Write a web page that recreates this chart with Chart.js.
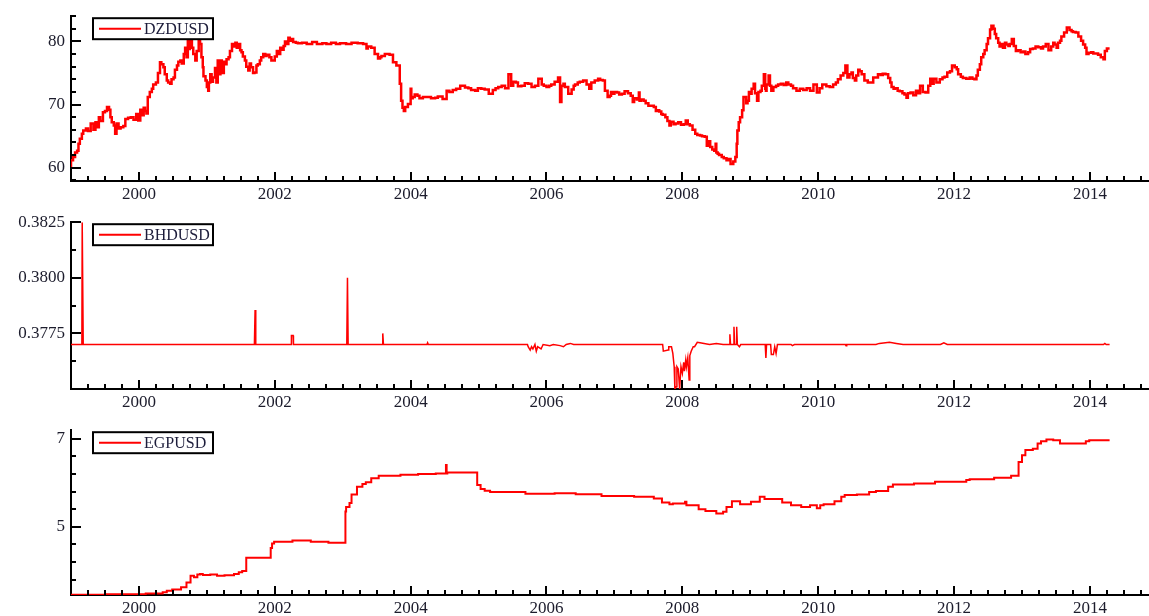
<!DOCTYPE html>
<html>
<head>
<meta charset="utf-8">
<script src="https://cdn.jsdelivr.net/npm/chart.js@4.4.1/dist/chart.umd.min.js"></script>
<style>
  body { margin: 0; background: #fff; }
  #wrap { position: relative; width: 1149px; height: 616px; overflow: hidden; }
  canvas { position: absolute; left: 0; }
</style>
</head>
<body>
<div id="wrap">
  <canvas id="dzd" width="1149" height="205" style="top:0px"></canvas>
  <canvas id="bhd" width="1149" height="208" style="top:206px"></canvas>
  <canvas id="egp" width="1149" height="202" style="top:414px"></canvas>
</div>
<script>
// shared time axis (decimal years)
const xStart = 1999.0;
const xEnd = 2014.87;
const yearLabels = [2000, 2002, 2004, 2006, 2008, 2010, 2012, 2014];

// DZD per USD
const dzdDates = [
  1999.00, 1999.03, 1999.06, 1999.09, 1999.11, 1999.13, 1999.16, 1999.18, 1999.22, 1999.25,
  1999.29, 1999.33, 1999.36, 1999.38, 1999.41, 1999.43, 1999.47, 1999.50, 1999.53, 1999.56,
  1999.58, 1999.60, 1999.63, 1999.65, 1999.67, 1999.70, 1999.73, 1999.77, 1999.80, 1999.84,
  1999.88, 1999.92, 1999.96, 1999.99, 2000.02, 2000.04, 2000.07, 2000.09, 2000.11, 2000.13,
  2000.16, 2000.19, 2000.21, 2000.25, 2000.28, 2000.31, 2000.33, 2000.36, 2000.38, 2000.41,
  2000.43, 2000.46, 2000.48, 2000.51, 2000.53, 2000.56, 2000.58, 2000.61, 2000.63, 2000.66,
  2000.68, 2000.70, 2000.72, 2000.73, 2000.75, 2000.78, 2000.80, 2000.83, 2000.85, 2000.88,
  2000.90, 2000.92, 2000.94, 2000.95, 2000.98, 2001.00, 2001.02, 2001.03, 2001.05, 2001.07,
  2001.09, 2001.12, 2001.14, 2001.16, 2001.18, 2001.20, 2001.22, 2001.25, 2001.27, 2001.29,
  2001.32, 2001.34, 2001.37, 2001.39, 2001.42, 2001.44, 2001.47, 2001.49, 2001.51, 2001.53,
  2001.56, 2001.58, 2001.61, 2001.63, 2001.65, 2001.68, 2001.70, 2001.73, 2001.75, 2001.78,
  2001.80, 2001.83, 2001.86, 2001.88, 2001.92, 2001.95, 2001.98, 2002.00, 2002.03, 2002.05,
  2002.08, 2002.10, 2002.13, 2002.15, 2002.18, 2002.20, 2002.22, 2002.25, 2002.27, 2002.31,
  2002.34, 2002.40, 2002.47, 2002.55, 2002.62, 2002.70, 2002.76, 2002.83, 2002.90, 2002.96,
  2003.05, 2003.13, 2003.22, 2003.30, 2003.35, 2003.37, 2003.42, 2003.47, 2003.52, 2003.55,
  2003.57, 2003.62, 2003.69, 2003.74, 2003.79, 2003.84, 2003.86, 2003.88, 2003.90, 2003.92,
  2003.96, 2004.00, 2004.01, 2004.03, 2004.06, 2004.10, 2004.13, 2004.18, 2004.23, 2004.30,
  2004.36, 2004.40, 2004.47, 2004.53, 2004.57, 2004.62, 2004.67, 2004.73, 2004.80, 2004.85,
  2004.89, 2004.95, 2004.99, 2005.04, 2005.09, 2005.15, 2005.21, 2005.25, 2005.29, 2005.34,
  2005.39, 2005.44, 2005.48, 2005.51, 2005.55, 2005.58, 2005.63, 2005.68, 2005.73, 2005.78,
  2005.83, 2005.88, 2005.93, 2005.96, 2006.00, 2006.04, 2006.07, 2006.12, 2006.17, 2006.20,
  2006.22, 2006.25, 2006.27, 2006.32, 2006.37, 2006.40, 2006.42, 2006.46, 2006.49, 2006.54,
  2006.59, 2006.63, 2006.66, 2006.71, 2006.76, 2006.79, 2006.83, 2006.86, 2006.90, 2006.93,
  2006.95, 2006.98, 2007.00, 2007.04, 2007.07, 2007.11, 2007.15, 2007.20, 2007.24, 2007.27,
  2007.29, 2007.33, 2007.36, 2007.37, 2007.39, 2007.43, 2007.46, 2007.50, 2007.54, 2007.58,
  2007.61, 2007.64, 2007.66, 2007.69, 2007.71, 2007.75, 2007.78, 2007.81, 2007.83, 2007.87,
  2007.90, 2007.94, 2007.98, 2008.02, 2008.05, 2008.08, 2008.11, 2008.15, 2008.19, 2008.22,
  2008.26, 2008.29, 2008.33, 2008.36, 2008.38, 2008.41, 2008.44, 2008.47, 2008.49, 2008.50,
  2008.52, 2008.54, 2008.58, 2008.61, 2008.65, 2008.68, 2008.71, 2008.75, 2008.78, 2008.80,
  2008.81, 2008.83, 2008.85, 2008.88, 2008.90, 2008.94, 2008.96, 2008.98, 2009.00, 2009.02,
  2009.05, 2009.07, 2009.10, 2009.12, 2009.15, 2009.17, 2009.20, 2009.22, 2009.23, 2009.24,
  2009.27, 2009.29, 2009.31, 2009.34, 2009.38, 2009.41, 2009.45, 2009.49, 2009.53, 2009.56,
  2009.60, 2009.63, 2009.68, 2009.73, 2009.78, 2009.83, 2009.88, 2009.93, 2009.98, 2010.02,
  2010.06, 2010.12, 2010.17, 2010.22, 2010.26, 2010.29, 2010.33, 2010.37, 2010.40, 2010.43,
  2010.46, 2010.49, 2010.51, 2010.54, 2010.56, 2010.59, 2010.61, 2010.64, 2010.68, 2010.73,
  2010.78, 2010.81, 2010.85, 2010.88, 2010.92, 2010.95, 2010.99, 2011.03, 2011.06, 2011.08,
  2011.11, 2011.13, 2011.17, 2011.20, 2011.24, 2011.27, 2011.30, 2011.32, 2011.36, 2011.40,
  2011.44, 2011.47, 2011.50, 2011.54, 2011.58, 2011.62, 2011.65, 2011.67, 2011.70, 2011.74,
  2011.79, 2011.83, 2011.86, 2011.90, 2011.94, 2011.97, 2012.01, 2012.04, 2012.06, 2012.10,
  2012.13, 2012.18, 2012.23, 2012.27, 2012.30, 2012.33, 2012.35, 2012.38, 2012.40, 2012.43,
  2012.45, 2012.48, 2012.50, 2012.53, 2012.55, 2012.58, 2012.60, 2012.62, 2012.65, 2012.67,
  2012.70, 2012.72, 2012.75, 2012.77, 2012.80, 2012.82, 2012.85, 2012.88, 2012.91, 2012.94,
  2012.98, 2013.02, 2013.05, 2013.09, 2013.12, 2013.16, 2013.20, 2013.24, 2013.28, 2013.31,
  2013.35, 2013.39, 2013.43, 2013.46, 2013.48, 2013.51, 2013.53, 2013.56, 2013.58, 2013.62,
  2013.66, 2013.70, 2013.73, 2013.75, 2013.79, 2013.83, 2013.87, 2013.90, 2013.93, 2013.95,
  2013.98, 2014.02, 2014.05, 2014.09, 2014.12, 2014.16, 2014.20, 2014.22, 2014.25, 2014.29
];
const dzdValues = [
  60.1, 61.2, 61.7, 62.4, 62.7, 63.8, 64.6, 65.4, 65.9, 66.2,
  65.8, 67.0, 66.0, 67.2, 66.4, 68.0, 67.4, 68.8, 69.0, 69.6,
  69.2, 68.0, 67.2, 66.7, 65.4, 67.0, 66.2, 66.4, 66.6, 67.7,
  67.9, 68.0, 67.6, 68.5, 67.5, 69.2, 68.3, 69.5, 69.0, 68.6,
  71.2, 72.0, 72.5, 73.2, 73.5, 75.0, 76.7, 76.4, 75.9, 74.8,
  73.8, 73.5, 73.3, 74.0, 74.3, 75.5, 76.2, 76.8, 77.0, 76.5,
  78.0, 79.0, 77.5, 80.1, 78.8, 80.3, 79.0, 78.0, 77.0, 78.5,
  80.1, 79.6, 77.5, 75.9, 74.5, 73.8, 72.8, 72.2, 73.5, 74.8,
  73.6, 74.3, 75.8, 73.5, 77.0, 74.8, 77.0, 75.0, 76.8, 76.4,
  77.2, 77.5, 78.5, 79.6, 79.2, 79.8, 79.0, 79.6, 78.6, 78.3,
  77.6, 77.0, 76.0, 75.4, 76.5, 75.9, 75.0, 75.1, 76.2, 76.4,
  77.0, 77.5, 78.0, 77.7, 77.9, 77.5, 77.0, 77.0, 77.6, 78.5,
  78.0, 79.0, 78.7, 79.3, 80.0, 79.6, 80.6, 80.1, 80.4, 79.9,
  79.8, 79.7, 79.8, 79.6, 79.9, 79.6, 79.7, 79.6, 79.8, 79.6,
  79.7, 79.6, 79.8, 79.7, 79.6, 78.9, 79.2, 79.0, 78.0, 77.3,
  77.5, 77.7, 78.0, 77.9, 76.7, 76.2, 73.3, 70.6, 69.5, 69.0,
  69.6, 70.1, 72.5, 71.0, 71.2, 71.6, 71.4, 71.0, 71.2, 71.2,
  71.0, 71.1, 71.3, 70.9, 72.2, 72.0, 72.3, 72.5, 73.0, 72.7,
  72.6, 72.3, 72.2, 72.6, 72.5, 72.4, 71.7, 72.3, 72.6, 72.8,
  73.0, 72.6, 74.8, 73.0, 73.6, 73.5, 72.9, 73.0, 73.4, 73.3,
  72.8, 73.0, 74.1, 73.2, 73.0, 72.8, 73.0, 73.2, 73.6, 74.3,
  70.4, 73.0, 73.3, 72.8, 71.7, 72.4, 73.0, 73.2, 73.5, 73.6,
  73.8, 73.2, 72.5, 73.5, 73.8, 74.1, 73.9, 73.8, 72.2, 71.2,
  71.4, 72.0, 71.7, 72.0, 71.9, 71.6, 71.7, 72.1, 71.8, 71.4,
  70.4, 71.0, 70.8, 71.9, 70.6, 70.8, 70.6, 70.2, 69.8, 69.8,
  69.6, 69.0, 69.1, 68.9, 68.5, 68.4, 68.0, 67.4, 66.7, 67.3,
  66.9, 67.0, 67.2, 66.8, 66.9, 67.5, 66.9, 66.7, 66.0, 65.4,
  65.2, 65.1, 65.0, 64.9, 63.5, 64.2, 63.3, 62.9, 62.7, 63.8,
  62.4, 62.2, 62.0, 61.7, 61.5, 61.2, 61.4, 60.6, 61.0, 61.7,
  63.8, 65.9, 67.2, 68.0, 69.1, 71.2, 70.2, 70.6, 72.0, 71.7,
  72.5, 73.3, 71.8, 70.6, 72.0, 72.2, 73.0, 74.8, 72.5, 72.2,
  73.2, 74.6, 73.0, 72.2, 72.8, 73.0, 73.2, 73.3, 73.1, 73.5,
  73.2, 73.0, 72.6, 72.2, 72.5, 72.3, 72.6, 72.2, 73.2, 71.9,
  72.6, 73.2, 72.9, 72.8, 73.2, 73.5, 74.0, 74.6, 75.0, 76.2,
  74.3, 74.8, 75.1, 74.2, 73.8, 74.6, 75.5, 75.3, 74.8, 73.8,
  73.5, 73.5, 74.3, 74.3, 74.8, 74.7, 74.9, 74.8, 74.2, 73.5,
  72.8, 72.5, 72.6, 72.2, 72.1, 71.8, 71.6, 71.1, 71.8, 71.9,
  71.5, 72.2, 71.8, 73.0, 72.0, 71.9, 73.0, 74.1, 73.3, 74.1,
  73.5, 74.0, 74.3, 74.4, 75.1, 75.3, 76.2, 75.9, 75.6, 74.8,
  74.4, 74.2, 74.1, 74.3, 74.1, 74.0, 74.6, 75.5, 76.4, 77.5,
  78.0, 78.6, 79.6, 80.5, 81.9, 82.5, 82.0, 81.2, 80.5, 79.8,
  79.2, 79.6, 79.0, 79.8, 79.5, 79.3, 79.6, 80.4, 79.3, 78.5,
  78.6, 78.3, 78.4, 78.0, 78.3, 78.8, 78.9, 79.2, 79.1, 78.9,
  79.2, 79.6, 78.6, 79.2, 79.8, 79.5, 79.0, 79.8, 80.1, 80.8,
  81.4, 82.2, 81.8, 81.6, 81.5, 81.4, 80.8, 80.1, 79.5, 79.0,
  78.0, 78.2, 78.3, 78.1, 78.1, 77.9, 77.5, 77.2, 78.5, 78.9
];

// BHD, pegged with short-lived deviations
const bhdDates = [
  1999.00, 1999.16, 1999.165, 1999.175, 1999.18, 2001.70, 2001.71, 2001.72, 2002.24, 2002.245,
  2002.27, 2002.275, 2003.06, 2003.07, 2003.08, 2003.58, 2003.59, 2003.60, 2004.24, 2004.25,
  2004.26, 2005.72, 2005.73, 2005.76, 2005.78, 2005.80, 2005.83, 2005.85, 2005.87, 2005.92,
  2005.95, 2006.05, 2006.10, 2006.20, 2006.25, 2006.29, 2006.35, 2006.40, 2007.71, 2007.72,
  2007.79, 2007.80, 2007.84, 2007.86, 2007.88, 2007.89, 2007.91, 2007.92, 2007.94, 2007.96,
  2007.98, 2008.00, 2008.02, 2008.03, 2008.05, 2008.06, 2008.08, 2008.10, 2008.11, 2008.13,
  2008.16, 2008.18, 2008.22, 2008.26, 2008.40, 2008.50, 2008.60, 2008.69, 2008.70, 2008.71,
  2008.75, 2008.76, 2008.77, 2008.79, 2008.80, 2008.81, 2008.84, 2008.86, 2009.22, 2009.23,
  2009.24, 2009.30, 2009.31, 2009.34, 2009.36, 2009.38, 2009.40, 2009.60, 2009.62, 2009.65,
  2010.40, 2010.41, 2010.42, 2010.85, 2010.90, 2011.05, 2011.15, 2011.25, 2011.80, 2011.85,
  2011.90, 2014.20, 2014.22, 2014.24, 2014.29
];
const bhdValues = [
  0.3770, 0.3770, 0.3825, 0.3825, 0.3770, 0.3770, 0.37855, 0.3770, 0.3770, 0.3774,
  0.3774, 0.3770, 0.3770, 0.3800, 0.3770, 0.3770, 0.3775, 0.3770, 0.3770, 0.37708,
  0.3770, 0.3770, 0.3769, 0.37675, 0.3769, 0.3768, 0.3770, 0.3767, 0.3769, 0.3768,
  0.3770, 0.37695, 0.3770, 0.37695, 0.3769, 0.3770, 0.37705, 0.3770, 0.3770, 0.3767,
  0.37675, 0.3769, 0.3769, 0.3766, 0.3760, 0.3750, 0.3751, 0.3760, 0.3759, 0.3750,
  0.3760, 0.3757, 0.3762, 0.3758, 0.3763, 0.3760, 0.3764, 0.3754, 0.3765, 0.3767,
  0.3769, 0.3769, 0.3771, 0.37708, 0.3770, 0.37705, 0.3770, 0.3770, 0.37746, 0.3770,
  0.3770, 0.3778, 0.3770, 0.3770, 0.3778, 0.3770, 0.3769, 0.3770, 0.3770, 0.3764,
  0.3770, 0.3770, 0.37655, 0.37655, 0.3769, 0.3766, 0.3770, 0.3770, 0.37695, 0.3770,
  0.3770, 0.37695, 0.3770, 0.3770, 0.37705, 0.3771, 0.37705, 0.3770, 0.3770, 0.37708,
  0.3770, 0.3770, 0.37705, 0.3770, 0.3770
];

// EGP per USD
const egpDates = [
  1999.00, 1999.50, 1999.90, 2000.10, 2000.35, 2000.41, 2000.49, 2000.62, 2000.70, 2000.76,
  2000.81, 2000.86, 2000.90, 2000.94, 2001.05, 2001.15, 2001.26, 2001.40, 2001.47, 2001.52,
  2001.58, 2001.59, 2001.79, 2001.94, 2001.96, 2001.99, 2002.02, 2002.26, 2002.53, 2002.79,
  2003.04, 2003.05, 2003.10, 2003.13, 2003.21, 2003.29, 2003.34, 2003.42, 2003.53, 2003.58,
  2003.85, 2004.11, 2004.37, 2004.52, 2004.53, 2004.54, 2004.64, 2004.98, 2005.03, 2005.09,
  2005.17, 2005.69, 2006.12, 2006.43, 2006.81, 2007.29, 2007.58, 2007.70, 2007.81, 2007.86,
  2008.04, 2008.06, 2008.24, 2008.34, 2008.50, 2008.60, 2008.65, 2008.73, 2008.80, 2008.85,
  2009.01, 2009.14, 2009.21, 2009.47, 2009.60, 2009.75, 2009.88, 2009.98, 2010.03, 2010.08,
  2010.24, 2010.34, 2010.39, 2010.57, 2010.75, 2010.85, 2011.03, 2011.10, 2011.21, 2011.41,
  2011.72, 2011.87, 2012.18, 2012.23, 2012.59, 2012.84, 2012.95, 2013.00, 2013.05, 2013.16,
  2013.23, 2013.28, 2013.36, 2013.46, 2013.56, 2013.64, 2013.94, 2013.99, 2014.29
];
const egpValues = [
  3.46, 3.46, 3.47, 3.47, 3.49, 3.52, 3.55, 3.58, 3.63, 3.74,
  3.89, 3.86, 3.92, 3.93, 3.91, 3.92, 3.89, 3.90, 3.93, 3.97,
  4.00, 4.30, 4.30, 4.30, 4.52, 4.62, 4.66, 4.66, 4.69, 4.66,
  4.64, 5.35, 5.45, 5.54, 5.73, 5.91, 5.97, 6.01, 6.10, 6.16,
  6.16, 6.18, 6.20, 6.21, 6.40, 6.21, 6.23, 6.23, 5.95, 5.86,
  5.82, 5.79, 5.75, 5.76, 5.74, 5.70, 5.68, 5.64, 5.55, 5.51,
  5.53, 5.57, 5.49, 5.40, 5.36, 5.30, 5.34, 5.45, 5.58, 5.58,
  5.51, 5.57, 5.68, 5.63, 5.55, 5.49, 5.45, 5.49, 5.42, 5.49,
  5.51, 5.58, 5.68, 5.72, 5.73, 5.79, 5.81, 5.91, 5.96, 5.96,
  5.98, 6.02, 6.02, 6.06, 6.08, 6.11, 6.16, 6.47, 6.62, 6.74,
  6.77, 6.89, 6.94, 6.98, 6.96, 6.89, 6.89, 6.94, 6.96
];

// y axes: tick positions and which of them carry a label
const dzdTicks = [58, 60, 62, 64, 66, 68, 70, 72, 74, 76, 78, 80, 82, 84];
const dzdTickLabels = [60, 70, 80];
const bhdTicks = [0.37625, 0.3775, 0.37875, 0.3800, 0.38125, 0.3825];
const bhdTickLabels = [0.3775, 0.3800, 0.3825];
const egpTicks = [3.8, 4.2, 4.6, 5.0, 5.4, 5.8, 6.2, 6.6, 7.0];
const egpTickLabels = [5, 7];

const same = (a, b) => Math.abs(a - b) < 1e-9;

// quarterly minor ticks on the time axis
const xTicks = [];
for (let q = 1; xStart + q * 0.25 < xEnd; q++) xTicks.push(xStart + q * 0.25);

Chart.defaults.font.family = '"Liberation Serif", "Times New Roman", serif';
Chart.defaults.font.size = 17;
Chart.defaults.color = '#1c1c2c';

// tick marks drawn inward from the axes, plus the boxed legend
const frame = {
  id: 'frame',
  afterDraw(chart, args, opts) {
    const { ctx, chartArea: area, scales: { x, y } } = chart;
    ctx.save();
    ctx.strokeStyle = '#000';
    ctx.lineWidth = 2;
    ctx.beginPath();
    x.ticks.forEach(t => {
      const px = Math.round(x.getPixelForValue(t.value));
      const len = yearLabels.some(v => same(v, t.value)) ? 9 : 5;
      ctx.moveTo(px, area.bottom);
      ctx.lineTo(px, area.bottom - len);
    });
    y.ticks.forEach(t => {
      const py = Math.round(y.getPixelForValue(t.value));
      const len = opts.labels.some(v => same(v, t.value)) ? 10 : 5;
      ctx.moveTo(area.left, py);
      ctx.lineTo(area.left + len, py);
    });
    ctx.stroke();

    // legend box
    const bx = area.left + 22, by = area.top + 2, bw = 120, bh = 21;
    ctx.fillStyle = '#fff';
    ctx.fillRect(bx, by, bw, bh);
    ctx.strokeRect(bx, by, bw, bh);
    const ds = chart.data.datasets[0];
    ctx.strokeStyle = ds.borderColor;
    ctx.lineWidth = 2;
    ctx.beginPath();
    ctx.moveTo(bx + 6, by + bh / 2);
    ctx.lineTo(bx + 48, by + bh / 2);
    ctx.stroke();
    ctx.fillStyle = '#1c1c3a';
    ctx.font = '16px "Liberation Serif", serif';
    ctx.textBaseline = 'middle';
    ctx.fillText(ds.label, bx + 51, by + bh / 2 + 1);
    ctx.restore();
  }
};

function drawPanel(id, label, dates, values, yMin, yMax, ticks, tickLabels, fmt, topPad, xHeight, width, stepped) {
  const points = dates.map((d, i) => ({ x: d, y: values[i] }));
  new Chart(document.getElementById(id), {
    type: 'line',
    data: {
      datasets: [{
        label: label,
        data: points,
        borderColor: '#ff0000',
        borderWidth: width,
        pointRadius: 0,
        tension: 0,
        stepped: stepped,
        fill: false
      }]
    },
    options: {
      responsive: false,
      animation: false,
      layout: { padding: { top: topPad, left: 0, right: 0, bottom: 0 } },
      plugins: {
        legend: { display: false },
        tooltip: { enabled: false },
        frame: { labels: tickLabels }
      },
      scales: {
        x: {
          type: 'linear',
          min: xStart,
          max: xEnd,
          grid: { drawOnChartArea: false, drawTicks: false },
          border: { display: true, color: '#000', width: 2 },
          afterBuildTicks: s => { s.ticks = xTicks.map(v => ({ value: v })); },
          afterFit: s => { s.height = xHeight; },
          ticks: {
            autoSkip: false,
            maxRotation: 0,
            padding: 3,
            callback: v => yearLabels.some(l => same(l, v)) ? String(Math.round(v)) : ''
          }
        },
        y: {
          min: yMin,
          max: yMax,
          grid: { drawOnChartArea: false, drawTicks: false },
          border: { display: true, color: '#000', width: 2 },
          afterBuildTicks: s => { s.ticks = ticks.map(v => ({ value: v })); },
          afterFit: s => { s.width = 71; },
          ticks: {
            autoSkip: false,
            padding: 6,
            callback: v => tickLabels.some(l => same(l, v)) ? fmt(v) : ''
          }
        }
      }
    },
    plugins: [frame]
  });
}

drawPanel('dzd', 'DZDUSD', dzdDates, dzdValues, 57.9, 84.0, dzdTicks, dzdTickLabels,
  v => v.toFixed(0), 16, 24, 2.5, 'after');
drawPanel('bhd', 'BHDUSD', bhdDates, bhdValues, 0.3750, 0.3825, bhdTicks, bhdTickLabels,
  v => v.toFixed(4), 16, 25, 1.5, false);
drawPanel('egp', 'EGPUSD', egpDates, egpValues, 3.455, 7.19, egpTicks, egpTickLabels,
  v => v.toFixed(0), 16, 21, 2, 'after');
</script>
</body>
</html>
